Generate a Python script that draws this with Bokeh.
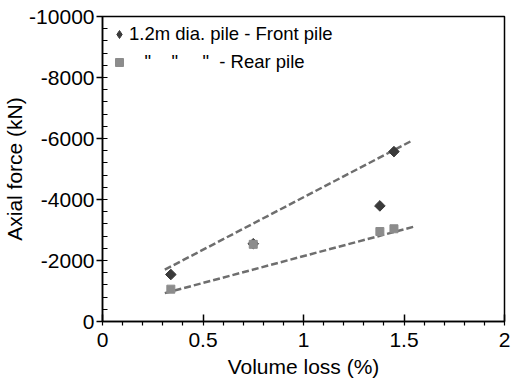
import math
from bokeh.plotting import figure
from bokeh.models import Range1d, FixedTicker, CustomJSTickFormatter, Legend, LegendItem
from bokeh.embed import file_html
from bokeh.resources import INLINE

# Data
volume_loss_front = [0.34, 0.75, 1.38, 1.45]
axial_front = [-1540, -2550, -3790, -5570]
volume_loss_rear = [0.34, 0.75, 1.38, 1.45]
axial_rear = [-1060, -2530, -2950, -3040]

trend_front_x = [0.31, 1.54]
trend_front_y = [-1700, -5930]
trend_rear_x = [0.31, 1.55]
trend_rear_y = [-930, -3110]

x_ticks = [0, 0.5, 1, 1.5, 2]
y_ticks = [0, -2000, -4000, -6000, -8000, -10000]
x_minor = [i / 10 for i in range(0, 21)]
y_minor = [-400 * i for i in range(0, 26)]

x_title = "Volume loss (%)"
y_title = "Axial force (kN)"
front_label = "1.2m dia. pile - Front pile"
nb = "\u00a0"
th = "\u2009"
rear_label = nb * 3 + '"' + nb * 4 + '"' + nb * 4 + th + '"' + nb * 2 + "- Rear pile"

FONT = "Liberation Sans"

p = figure(width=513, height=384, output_backend="svg", toolbar_location=None,
           x_range=Range1d(0, 2), y_range=Range1d(0, -10000),
           min_border_left=101, min_border_right=9, min_border_top=16, min_border_bottom=63)
p.xgrid.visible = False
p.ygrid.visible = False
p.outline_line_color = "black"
p.outline_line_width = 1.5
p.background_fill_color = "white"
p.border_fill_color = "white"

fmt = CustomJSTickFormatter(code="return tick.toString();")

xa = p.xaxis[0]
xa.ticker = FixedTicker(ticks=x_ticks, minor_ticks=x_minor)
xa.formatter = fmt
xa.axis_label = x_title
xa.major_tick_in = 7
xa.major_tick_out = 0
xa.minor_tick_in = 0
xa.minor_tick_out = 4
xa.major_label_standoff = 7
xa.axis_label_standoff = 5

ya = p.yaxis[0]
ya.ticker = FixedTicker(ticks=y_ticks, minor_ticks=y_minor)
ya.formatter = fmt
ya.axis_label = y_title
ya.major_tick_in = 0
ya.major_tick_out = 6
ya.minor_tick_in = 5
ya.minor_tick_out = 0
ya.major_label_standoff = 2
ya.axis_label_standoff = 0

for ax in (xa, ya):
    ax.axis_line_width = 1.5
    ax.axis_line_color = "black"
    ax.major_tick_line_width = 1.5
    ax.minor_tick_line_width = 1.2
    ax.major_tick_line_color = "black"
    ax.minor_tick_line_color = "black"
    ax.major_label_text_font = FONT
    ax.major_label_text_font_size = "21px"
    ax.major_label_text_color = "black"
    ax.axis_label_text_font = FONT
    ax.axis_label_text_font_size = "21px"
    ax.axis_label_text_font_style = "normal"
    ax.axis_label_text_color = "black"

p.line(trend_front_x, trend_front_y, line_color="#6e6e6e", line_width=2.5, line_dash="7 3")
p.line(trend_rear_x, trend_rear_y, line_color="#6e6e6e", line_width=2.5, line_dash="7 3")

r_front = p.scatter(volume_loss_front, axial_front, marker="square", angle=math.pi / 4, size=7.5,
                    fill_color="#3a3a3a", line_color="#3a3a3a")
r_rear = p.scatter(volume_loss_rear, axial_rear, marker="square", size=8,
                   fill_color="#8c8c8c", line_color="#8c8c8c")
# hidden legend key so the legend shows a diamond symbol
r_front_key = p.scatter(volume_loss_front, axial_front, marker="diamond", size=12,
                        fill_color="#3a3a3a", line_color="#3a3a3a", visible=False)

legend = Legend(items=[LegendItem(label=front_label, renderers=[r_front_key]),
                       LegendItem(label=rear_label, renderers=[r_rear])],
                location="top_left", margin=7, padding=8, spacing=6,
                glyph_width=20, glyph_height=20, label_height=20, label_standoff=0,
                border_line_color=None, background_fill_alpha=0,
                inactive_fill_alpha=0,
                label_text_font=FONT, label_text_font_size="18.5px", label_text_color="black")
p.add_layout(legend)

open("out.html", "w").write(file_html(p, INLINE))
